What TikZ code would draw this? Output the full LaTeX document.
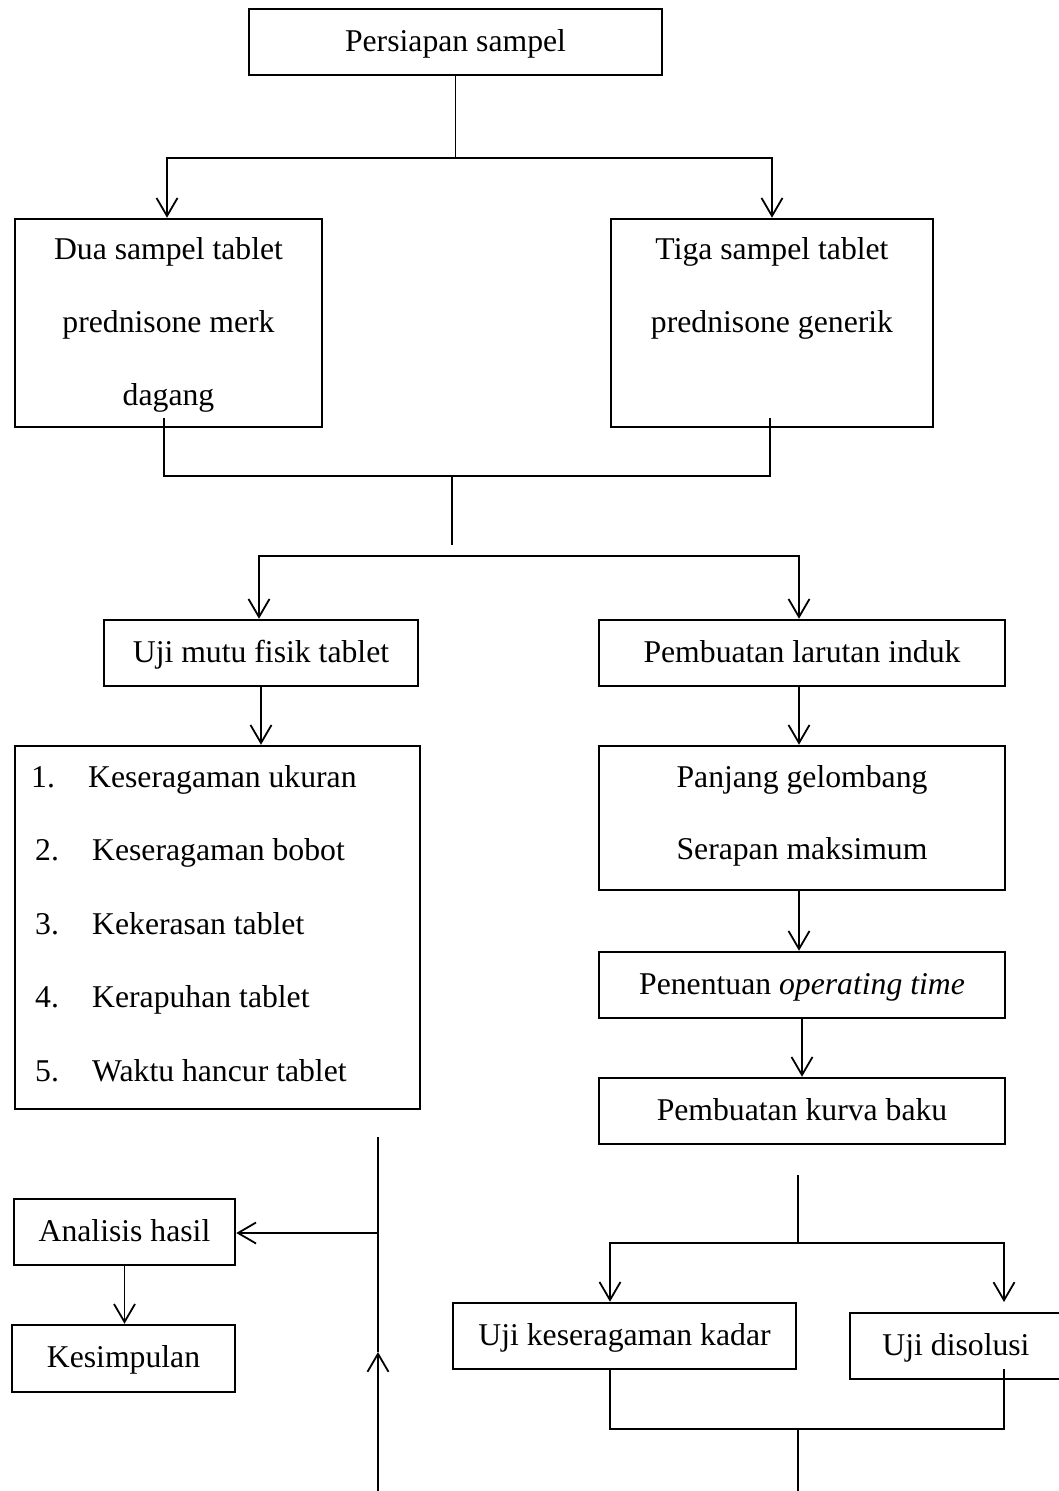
\documentclass[tikz,border=0pt]{standalone}
\usepackage{fontspec}
\setmainfont{Liberation Serif}
\usetikzlibrary{arrows.meta,calc}
\newcommand\diagfont{\fontsize{31.7pt}{38pt}\selectfont}
\begin{document}
\begin{tikzpicture}[x=1pt,y=-1pt,
  every node/.style={font=\diagfont},
  box/.style={draw,line width=2.5pt,inner sep=0pt,text height=24pt,text depth=6pt},
  frame/.style={draw,line width=2.5pt,inner sep=0pt},
  txt/.style={inner sep=0pt,anchor=base},
  ltxt/.style={inner sep=0pt,anchor=base west},
  conn/.style={line width=1.8pt},
  arr/.style={line width=1.8pt,-{Straight Barb[length=18pt,width=21pt]}}]
\fill[white] (0,0) rectangle (1059,1491);
\useasboundingbox (0,0) rectangle (1059,1491);
\clip (0,0) rectangle (1059,1491);

% boxes
\node[box,minimum width=413pt,minimum height=66pt] (persiapan) at (455.5,42) {Persiapan sampel};
\node[frame,minimum width=307pt,minimum height=208pt] (dua) at (168.5,323) {};
\node[frame,minimum width=322pt,minimum height=208pt] (tiga) at (772,323) {};
\node[box,minimum width=314pt,minimum height=66pt] (uji) at (261,653) {Uji mutu fisik tablet};
\node[box,minimum width=406pt,minimum height=66pt] (larutan) at (802,653) {Pembuatan larutan induk};
\node[frame,minimum width=405pt,minimum height=363pt] (list) at (217.5,927.5) {};
\node[frame,minimum width=406pt,minimum height=144pt] (panjang) at (802,818) {};
\node[box,minimum width=406pt,minimum height=66pt] (penentuan) at (802,985) {Penentuan \textit{operating time}};
\node[box,minimum width=406pt,minimum height=66pt] (kurva) at (802,1111) {Pembuatan kurva baku};
\node[box,minimum width=221pt,minimum height=66pt] (analisis) at (124.5,1232) {Analisis hasil};
\node[box,minimum width=223pt,minimum height=67pt] (kesimpulan) at (123.5,1358.5) {Kesimpulan};
\node[box,minimum width=343pt,minimum height=66pt] (kadar) at (624.5,1336) {Uji keseragaman kadar};
\node[box,minimum width=212pt,minimum height=66pt] (disolusi) at (956,1346) {Uji disolusi};

% multi-line texts
\node[txt] (dua1) at (168.5,259) {Dua sampel tablet};
\node[txt] (dua2) at (168.5,332) {prednisone merk};
\node[txt] (dua3) at (168.5,405) {dagang};
\node[txt] (tiga1) at (772,259) {Tiga sampel tablet};
\node[txt] (tiga2) at (772,332) {prednisone generik};
\node[txt] (pj1) at (802,787) {Panjang gelombang};
\node[txt] (pj2) at (802,859) {Serapan maksimum};

\node[ltxt] (n1) at (31,787) {1.};
\node[ltxt] (n2) at (35,860.5) {2.};
\node[ltxt] (n3) at (35,934) {3.};
\node[ltxt] (n4) at (35,1007.5) {4.};
\node[ltxt] (n5) at (35,1081) {5.};
\node[ltxt] (i1) at (88,787) {Keseragaman ukuran};
\node[ltxt] (i2) at (92,860.5) {Keseragaman bobot};
\node[ltxt] (i3) at (92,934) {Kekerasan tablet};
\node[ltxt] (i4) at (92,1007.5) {Kerapuhan tablet};
\node[ltxt] (i5) at (92,1081) {Waktu hancur tablet};

% junction coordinates
\coordinate (j1) at (455.5,158);
\coordinate (xd) at (167,0);
\coordinate (d1) at (164,418);
\coordinate (t1) at (770,418);
\coordinate (j2) at (452,476);
\coordinate (j3) at (452,545);
\coordinate (j4) at (452,556);
\coordinate (xu) at (259,0);
\coordinate (xr) at (799,0);
\coordinate (k1) at (798,1175);
\coordinate (k2) at (798,1243);
\coordinate (xl) at (610,0);
\coordinate (dtop) at (1004,1302);
\coordinate (db) at (1004,1369);
\coordinate (k3) at (798,1429);
\coordinate (k4) at (798,1500);
\coordinate (v1) at (378,1137);
\coordinate (v2) at (378,1352);
\coordinate (v3) at (378,1500);
\coordinate (v4) at (378,1233);

% connectors
\draw[conn] (persiapan.south) -- (j1);
\draw[arr] (j1) -| (xd |- dua.north);
\draw[arr] (j1) -| (tiga.north);
\draw[conn] (d1) |- (j2) -| (t1);
\draw[conn] (j2) -- (j3);
\draw[arr] (j4) -| (xu |- uji.north);
\draw[arr] (j4) -| (xr |- larutan.north);
\draw[arr] (uji.south) -- (uji.south |- list.north);
\draw[arr] (xr |- larutan.south) -- (xr |- panjang.north);
\draw[arr] (xr |- panjang.south) -- (xr |- penentuan.north);
\draw[arr] (penentuan.south) -- (kurva.north);
\draw[conn] (k1) -- (k2);
\draw[arr] (k2) -| (xl |- kadar.north);
\draw[arr] (k2) -| (dtop);
\draw[conn] (xl |- kadar.south) |- (k3) -| (db);
\draw[conn] (k3) -- (k4);
\draw[arr] (v3) -- (v2);
\draw[conn] (v1) -- (v2);
\draw[arr] (v4) -- (v4 -| analisis.east);
\draw[arr] (analisis.south) -- (analisis.south |- kesimpulan.north);
\end{tikzpicture}
\end{document}
